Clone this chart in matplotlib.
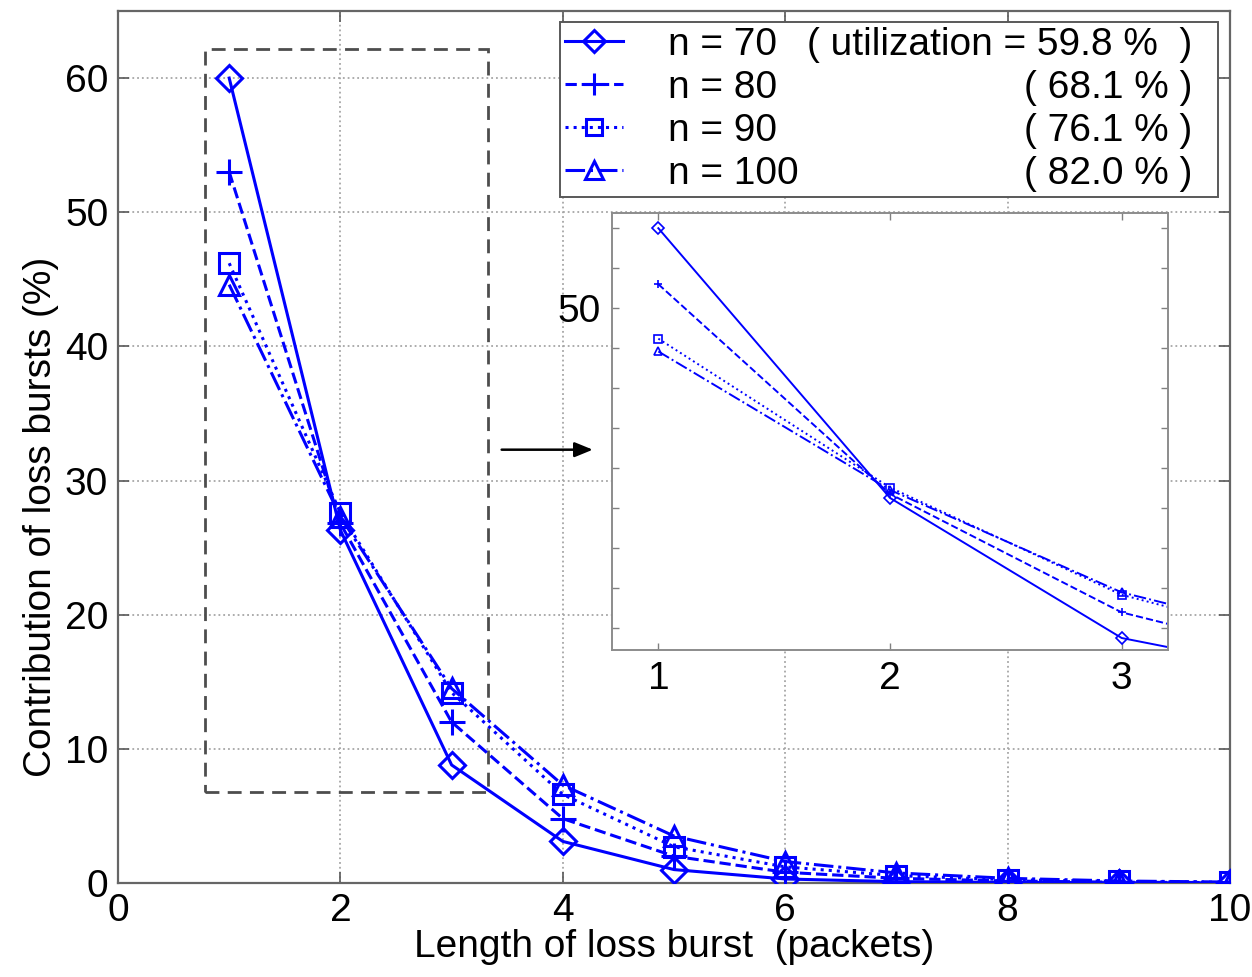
import matplotlib
matplotlib.use("Agg")
import matplotlib.pyplot as plt
from matplotlib.patches import Rectangle

plt.rcParams['font.family'] = ['Liberation Sans', 'DejaVu Sans']

# ---- data ----
burst_len = [1, 2, 3, 4, 5, 6, 7, 8, 9, 10]
n70 = [60.0, 26.3, 8.8, 3.1, 1.0, 0.3, 0.1, 0.05, 0.02, 0.01]
n80 = [53.0, 26.8, 12.0, 4.8, 2.0, 0.8, 0.35, 0.15, 0.06, 0.03]
n90 = [46.2, 27.6, 14.2, 6.6, 2.7, 1.2, 0.55, 0.25, 0.12, 0.05]
n100 = [44.6, 27.3, 14.5, 7.3, 3.5, 1.6, 0.75, 0.35, 0.15, 0.07]
series_labels = ["n = 70", "n = 80", "n = 90", "n = 100"]
utilization_labels = ["( utilization = 59.8 %  )", "( 68.1 % )", "( 76.1 % )", "( 82.0 % )"]
x_ticks = [0, 2, 4, 6, 8, 10]
y_ticks = [0, 10, 20, 30, 40, 50, 60]
inset_x_ticks = [1, 2, 3]
inset_y_ticks = [10, 15, 20, 25, 30, 35, 40, 45, 50, 55, 60]

series = [n70, n80, n90, n100]
styles = [('-', 'D'), ('--', '+'), (':', 's'), ('-.', '^')]
msizes = {'D': 13, '+': 19, 's': 14, '^': 15}
blue = (0, 0, 1)
FS = 28

fig = plt.figure(figsize=(12.52, 9.77), dpi=100)
ax = fig.add_axes([118/1252, 94/977, 1112/1252, 872/977])

handles = []
for ys, (ls, mk) in zip(series, styles):
    h, = ax.plot(burst_len, ys, color=blue, linestyle=ls, linewidth=2.2,
                 marker=mk, markersize=msizes[mk], markerfacecolor='none',
                 markeredgecolor=blue, markeredgewidth=2.2, zorder=3)
    handles.append(h)

ax.set_xlim(0, 10)
ax.set_ylim(0, 65)
ax.set_xticks(x_ticks)
ax.set_yticks(y_ticks)
ax.tick_params(direction='in', length=8, width=1.2, colors='0.35', labelcolor='black',
               labelsize=FS, top=True, right=True, pad=7)
ax.grid(True, linestyle=':', color='0.65', linewidth=1.3)
for s in ax.spines.values():
    s.set_color('0.4')
    s.set_linewidth(1.6)

ax.set_xlabel("Length of loss burst  (packets)", fontsize=FS, labelpad=0)
ax.set_ylabel("Contribution of loss bursts (%)", fontsize=FS)
ax.yaxis.set_label_coords(-0.053, 0.42)

# dashed zoom rectangle
rect = Rectangle((0.78, 6.8), 3.33 - 0.78, 62.2 - 6.8, fill=False,
                 edgecolor='0.3', linestyle=(0, (5, 3)), linewidth=2.0, zorder=2)
ax.add_patch(rect)

# arrow
ax.annotate("", xy=(4.27, 32.3), xytext=(3.45, 32.3),
            arrowprops=dict(arrowstyle='-|>,head_length=1.1,head_width=0.45',
                            color='black', linewidth=1.8, shrinkA=0, shrinkB=0), zorder=4)

# legend
leg = ax.legend(handles, series_labels, bbox_to_anchor=(0.3975, 0.7924, 0.5915, 0.1946),
                loc='upper left', mode='expand', borderaxespad=0, fontsize=FS,
                frameon=True, fancybox=False, edgecolor='0.35', framealpha=1,
                handlelength=1.5, handletextpad=1.15, labelspacing=0.18,
                borderpad=0.12, markerscale=0.85)
leg.get_frame().set_linewidth(1.4)
leg.set_zorder(6)

fig.canvas.draw()
inv = ax.transAxes.inverted()
for t, lab in zip(leg.get_texts(), utilization_labels):
    bb = t.get_window_extent()
    yc = inv.transform(((bb.x0 + bb.x1) / 2, (bb.y0 + bb.y1) / 2))[1]
    ax.text(0.966, yc, lab, transform=ax.transAxes, ha='right', va='center',
            fontsize=FS, zorder=7)

# inset
axin = fig.add_axes([612/1252, 327/977, 556/1252, 437/977])
for ys, (ls, mk) in zip(series, styles):
    axin.plot(burst_len, ys, color=blue, linestyle=ls, linewidth=1.4,
              marker=mk, markersize=6, markerfacecolor='none',
              markeredgecolor=blue, markeredgewidth=1.2)
axin.set_xlim(0.8, 3.2)
axin.set_ylim(7.3, 61.9)
axin.set_xticks(inset_x_ticks)
axin.set_yticks(inset_y_ticks)
axin.set_yticklabels(["50" if v == 50 else "" for v in inset_y_ticks])
axin.tick_params(direction='in', length=5, width=1.0, colors='0.5', labelcolor='black',
                 labelsize=FS, top=True, right=True, pad=8)
for s in axin.spines.values():
    s.set_color('0.55')
    s.set_linewidth(1.4)

fig.savefig("out.png", dpi=100)
